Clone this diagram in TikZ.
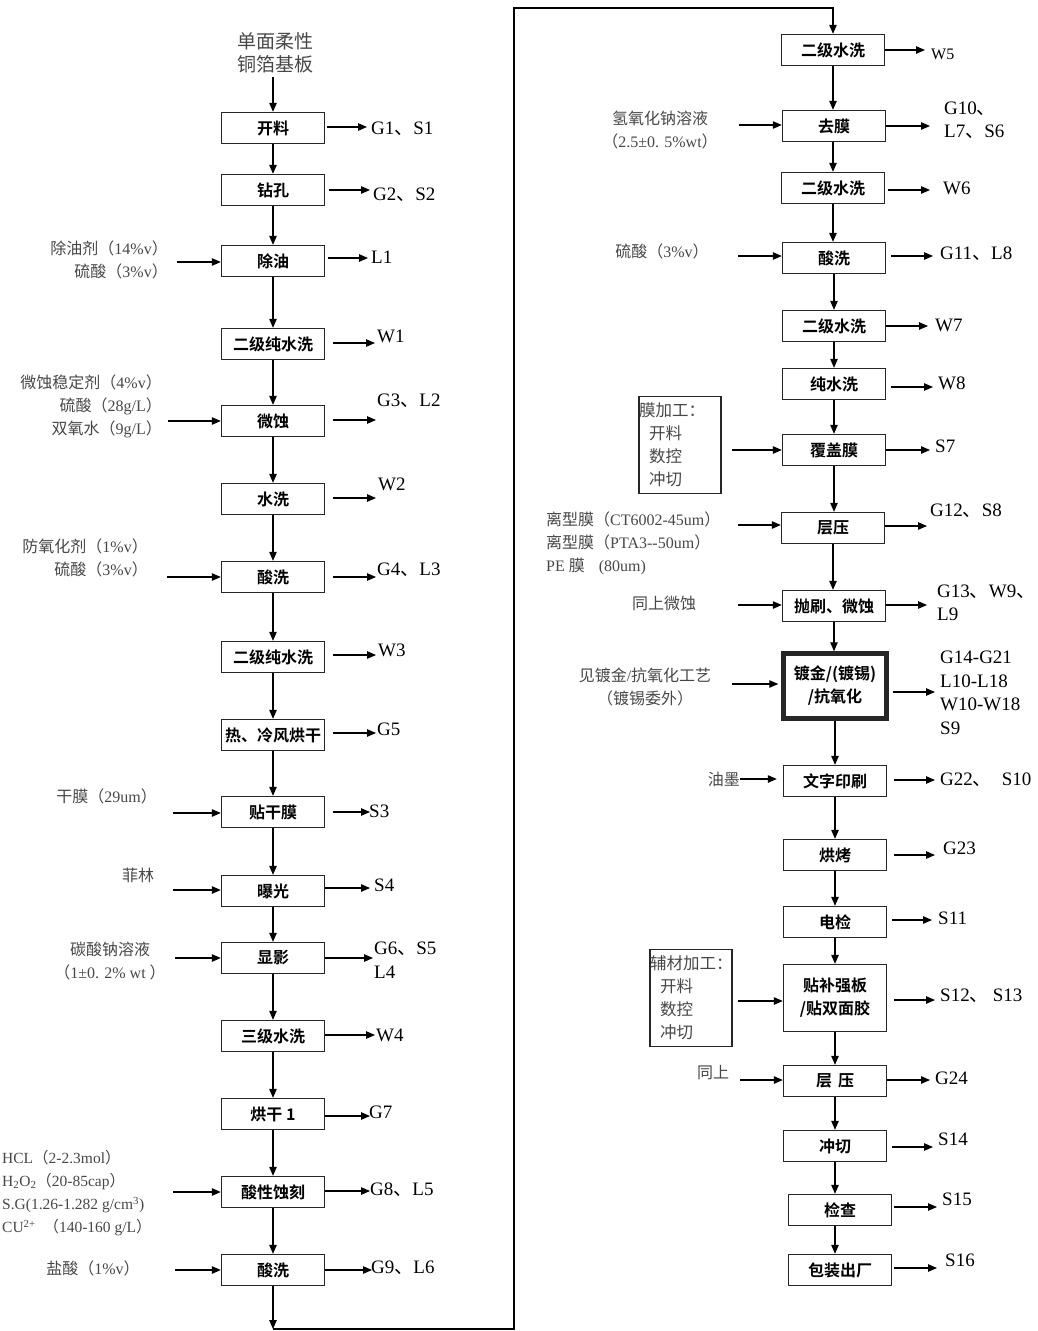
\documentclass[tikz,border=0pt]{standalone}
\usepackage{fontspec}
\setmainfont{Liberation Serif}
\newfontfamily\zh{Noto Sans CJK SC}[BoldFont={Noto Sans CJK SC Bold}]
\usetikzlibrary{arrows.meta}
\newcommand{\z}[1]{{\zh #1}}
\newcommand{\insize}{\fontsize{16}{23}\selectfont}
\newcommand{\outsize}{\fontsize{19}{23.5}\selectfont}

\begin{document}
\begin{tikzpicture}[x=1pt,y=-1pt,
  proc/.style={draw=black!85, line width=1.4pt, minimum width=103pt, minimum height=31pt,
    inner sep=0pt, align=center, font=\zh\bfseries\fontsize{16}{23}\selectfont},
  flow/.style={-{Triangle[length=9pt,width=7.5pt]}, line width=1.1pt},
  feed/.style={font=\insize, text=black!72, inner sep=0pt},
  emit/.style={font=\outsize, anchor=west, align=left, inner sep=0pt},
  prep/.style={draw=black!85, line width=1.2pt, minimum width=82pt, minimum height=97pt, text width=82pt,
    inner sep=0pt, align=left, text=black!72, font=\zh\fontsize{16.5}{23}\selectfont}]
  \useasboundingbox (0,0) rectangle (1038,1331);

  % left column
  \node[feed, align=center, font=\zh\fontsize{19}{23}\selectfont] (ban) at (275,53) {单面柔性\\铜箔基板};
  \node[proc] (kailiao) at (273,128) {开料};
  \node[proc] (zuankong) at (273,190) {钻孔};
  \node[proc] (chuyou) at (273,261) {除油};
  \node[proc] (chunshui1) at (273,344) {二级纯水洗};
  \node[proc] (weishi) at (273,421) {微蚀};
  \node[proc] (shuixi) at (273,499) {水洗};
  \node[proc] (suanxi1) at (273,577) {酸洗};
  \node[proc] (chunshui2) at (273,657) {二级纯水洗};
  \node[proc] (honggan) at (273,735) {热、冷风烘干};
  \node[proc] (tiemo) at (273,812) {贴干膜};
  \node[proc] (baoguang) at (273,891) {曝光};
  \node[proc] (xianying) at (273,958) {显影};
  \node[proc] (sanji) at (273,1036) {三级水洗};
  \node[proc] (honggan1) at (273,1114) {烘干 1};
  \node[proc] (shike) at (273,1192) {酸性蚀刻};
  \node[proc] (suanxi2) at (273,1270) {酸洗};

  \draw[flow, shorten <=4pt] (ban.south -| kailiao) -- (kailiao);
  \draw[flow] (kailiao) -- (zuankong);
  \draw[flow] (zuankong) -- (chuyou);
  \draw[flow] (chuyou) -- (chunshui1);
  \draw[flow] (chunshui1) -- (weishi);
  \draw[flow] (weishi) -- (shuixi);
  \draw[flow] (shuixi) -- (suanxi1);
  \draw[flow] (suanxi1) -- (chunshui2);
  \draw[flow] (chunshui2) -- (honggan);
  \draw[flow] (honggan) -- (tiemo);
  \draw[flow] (tiemo) -- (baoguang);
  \draw[flow] (baoguang) -- (xianying);
  \draw[flow] (xianying) -- (sanji);
  \draw[flow] (sanji) -- (honggan1);
  \draw[flow] (honggan1) -- (shike);
  \draw[flow] (shike) -- (suanxi2);

  % feeds on the left
  \node[feed, align=right, anchor=east] (f3) at (168,260) {\z{除油剂（}14\%v\z{）}\\\z{硫酸（}3\%v\z{）}};
  \node[feed, align=right, anchor=east] (f5) at (162,406) {\z{微蚀稳定剂（}4\%v\z{）}\\\z{硫酸（}28g/L\z{）}\\\z{双氧水（}9g/L\z{）}};
  \node[feed, align=right, anchor=east] (f7) at (148,558) {\z{防氧化剂（}1\%v\z{）}\\\z{硫酸（}3\%v\z{）}};
  \node[feed, anchor=east] (f10) at (157,796) {\z{干膜（}29um\z{）}};
  \node[feed] (f11) at (138,875) {\z{菲林}};
  \node[feed, align=center] (f12) at (110,961) {\z{碳酸钠溶液}\\\z{（}1±0. 2\% wt \z{）}};
  \node[feed, align=left, anchor=west, font=\fontsize{15.5}{23}\selectfont] (f15) at (2,1193) {HCL\z{（}2-2.3mol\z{）}\\H\textsubscript{2}O\textsubscript{2}\z{（}20-85cap\z{）}\\S.G(1.26-1.282 g/cm\textsuperscript{3})\\CU\textsuperscript{2+}\ \ \z{（}140-160 g/L\z{）}};
  \node[feed] (f16) at (93,1268) {\z{盐酸（}1\%v\z{）}};

  \coordinate (i3) at (177,262);
  \coordinate (i5) at (168,421);
  \coordinate (i7) at (167,577);
  \coordinate (i10) at (173,813);
  \coordinate (i11) at (173,890);
  \coordinate (i12) at (175,958);
  \coordinate (i15) at (173,1192);
  \coordinate (i16) at (175,1270);
  \draw[flow] (i3) -- (i3 -| chuyou.west);
  \draw[flow] (i5) -- (i5 -| weishi.west);
  \draw[flow] (i7) -- (i7 -| suanxi1.west);
  \draw[flow] (i10) -- (i10 -| tiemo.west);
  \draw[flow] (i11) -- (i11 -| baoguang.west);
  \draw[flow] (i12) -- (i12 -| xianying.west);
  \draw[flow] (i15) -- (i15 -| shike.west);
  \draw[flow] (i16) -- (i16 -| suanxi2.west);

  % outputs on the left
  \coordinate (o1) at (367,127);
  \coordinate (o2) at (370,190);
  \coordinate (o3) at (368,258);
  \coordinate (o4) at (375,343);
  \coordinate (o5) at (376,420);
  \coordinate (o6) at (376,498);
  \coordinate (o7) at (376,577);
  \coordinate (o8) at (376,655);
  \coordinate (o9) at (376,733);
  \coordinate (o10) at (370,812);
  \coordinate (o11) at (370,888);
  \coordinate (o12) at (373,958);
  \coordinate (o13) at (375,1035);
  \coordinate (o14) at (370,1116);
  \coordinate (o15) at (370,1191);
  \coordinate (o16) at (372,1270);
  \draw[flow] ([xshift=2pt]kailiao.east |- o1) -- (o1);
  \draw[flow] ([xshift=4pt]zuankong.east |- o2) -- (o2);
  \draw[flow] ([xshift=3pt]chuyou.east |- o3) -- (o3);
  \draw[flow] ([xshift=8pt]chunshui1.east |- o4) -- (o4);
  \draw[flow] ([xshift=8pt]weishi.east |- o5) -- (o5);
  \draw[flow] ([xshift=8pt]shuixi.east |- o6) -- (o6);
  \draw[flow] ([xshift=8pt]suanxi1.east |- o7) -- (o7);
  \draw[flow] ([xshift=8pt]chunshui2.east |- o8) -- (o8);
  \draw[flow] ([xshift=8pt]honggan.east |- o9) -- (o9);
  \draw[flow] ([xshift=8pt]tiemo.east |- o10) -- (o10);
  \draw[flow] (baoguang.east |- o11) -- (o11);
  \draw[flow] (xianying.east |- o12) -- (o12);
  \draw[flow] (sanji.east |- o13) -- (o13);
  \draw[flow] (honggan1.east |- o14) -- (o14);
  \draw[flow] (shike.east |- o15) -- (o15);
  \draw[flow] (suanxi2.east |- o16) -- (o16);
  \node[emit] (e1) at (371,129) {G1\z{、}S1};
  \node[emit] (e2) at (373,195) {G2\z{、}S2};
  \node[emit] (e3) at (371,257) {L1};
  \node[emit] (e4) at (377,336) {W1};
  \node[emit] (e5) at (377,401) {G3\z{、}L2};
  \node[emit] (e6) at (378,484) {W2};
  \node[emit] (e7) at (377,570) {G4\z{、}L3};
  \node[emit] (e8) at (378,650) {W3};
  \node[emit] (e9) at (377,729) {G5};
  \node[emit] (e10) at (369,811) {S3};
  \node[emit] (e11) at (374,885) {S4};
  \node[emit] (e12) at (374,960) {G6\z{、}S5\\L4};
  \node[emit] (e13) at (376,1035) {W4};
  \node[emit] (e14) at (369,1112) {G7};
  \node[emit] (e15) at (370,1190) {G8\z{、}L5};
  \node[emit] (e16) at (371,1268) {G9\z{、}L6};

  % link to the right column
  \coordinate (c1) at (273,1329);
  \coordinate (c2) at (514,1329);
  \coordinate (c3) at (514,8);

  % right column
  \node[proc] (shuixi5) at (833,50) {二级水洗};
  \node[proc] (qumo) at (834,126) {去膜};
  \node[proc] (shuixi6) at (833,188) {二级水洗};
  \node[proc] (suanxi3) at (834,258) {酸洗};
  \node[proc] (shuixi7) at (834,326) {二级水洗};
  \node[proc] (chunshui3) at (834,384) {纯水洗};
  \node[proc] (fugai) at (834,450) {覆盖膜};
  \node[proc] (cengya1) at (833,528) {层压};
  \node[proc] (paoshua) at (834,606) {抛刷、微蚀};
  \node[proc, line width=4.5pt, minimum width=103pt, minimum height=65pt] (dujin) at (835,686) {镀金/(镀锡)\\/抗氧化};
  \node[proc] (yinshua) at (835,781) {文字印刷};
  \node[proc] (hongkao) at (835,855) {烘烤};
  \node[proc] (dianjian) at (835,922) {电检};
  \node[proc, minimum height=67pt] (butie) at (835,998) {贴补强板\\/贴双面胶};
  \node[proc] (cengya2) at (835,1081) {层\hspace{6pt}压};
  \node[proc] (chongqie) at (835,1146) {冲切};
  \node[proc] (jiancha) at (840,1210) {检查};
  \node[proc] (baozhuang) at (840,1270) {包装出厂};

  \draw[flow] (suanxi2) -- (c1);
  \draw[flow] (c1) -- (c2) -- (c3) -| (shuixi5.north);
  \draw[flow] (shuixi5) -- (shuixi5 |- qumo.north);
  \draw[flow] (qumo.south -| shuixi5) -- (shuixi6);
  \draw[flow] (shuixi6) -- (shuixi6 |- suanxi3.north);
  \draw[flow] (suanxi3) -- (shuixi7);
  \draw[flow] (shuixi7) -- (chunshui3);
  \draw[flow] (chunshui3) -- (fugai);
  \draw[flow] (fugai) -- (fugai |- cengya1.north);
  \draw[flow] (cengya1) -- (cengya1 |- paoshua.north);
  \draw[flow] (paoshua) -- (paoshua |- dujin.north);
  \draw[flow] (dujin) -- (yinshua);
  \draw[flow] (yinshua) -- (hongkao);
  \draw[flow] (hongkao) -- (dianjian);
  \draw[flow] (dianjian) -- (butie);
  \draw[flow] (butie) -- (cengya2);
  \draw[flow] (cengya2) -- (chongqie);
  \draw[flow] (chongqie.south) -- (chongqie.south |- jiancha.north);
  \draw[flow] (jiancha.south -| chongqie) -- (baozhuang.north -| chongqie);

  % feeds on the right
  \node[feed, align=center] (g2) at (660,130) {\z{氢氧化钠溶液}\\\z{（}2.5±0. 5\%wt\z{）}};
  \node[feed] (g4) at (662,251) {\z{硫酸（}3\%v\z{）}};
  \node[prep] (mojg) at (680,445) {膜加工：\\\hspace*{10pt}开料\\\hspace*{10pt}数控\\\hspace*{10pt}冲切};
  \node[feed, align=left, anchor=west] (g8) at (546,543) {\z{离型膜（}CT6002-45um\z{）}\\\z{离型膜（}PTA3-{}-50um\z{）}\\PE \z{膜}\hspace{14pt}(80um)};
  \node[feed] (g9) at (664,603) {\z{同上微蚀}};
  \node[feed, align=center] (g10) at (645,687) {\z{见镀金}/\z{抗氧化工艺}\\\z{（镀锡委外）}};
  \node[feed, anchor=east] (youmo) at (740,779) {\z{油墨}};
  \node[prep] (fucai) at (691,998) {辅材加工：\\\hspace*{10pt}开料\\\hspace*{10pt}数控\\\hspace*{10pt}冲切};
  \node[feed] (g15) at (713,1073) {\z{同上}};

  \coordinate (j2) at (739,125);
  \coordinate (j4) at (738,256);
  \coordinate (j7) at (732,450);
  \coordinate (j8) at (738,525);
  \coordinate (j9) at (738,605);
  \coordinate (j10) at (732,684);
  \coordinate (j14) at (738,1001);
  \coordinate (j15) at (740,1080);
  \draw[flow] (j2) -- (j2 -| qumo.west);
  \draw[flow] (j4) -- (j4 -| suanxi3.west);
  \draw[flow] (j7) -- (j7 -| fugai.west);
  \draw[flow] (j8) -- (j8 -| cengya1.west);
  \draw[flow] (j9) -- (j9 -| paoshua.west);
  \draw[flow] (j10) -- ([xshift=-3pt]j10 -| dujin.west);
  \draw[flow] (youmo.east) -- ([xshift=-6pt]youmo.east -| yinshua.west);
  \draw[flow] (j14) -- (j14 -| butie.west);
  \draw[flow] (j15) -- (j15 -| cengya2.west);

  % outputs on the right
  \coordinate (p1) at (925,50);
  \coordinate (p2) at (930,126);
  \coordinate (p3) at (930,190);
  \coordinate (p4) at (933,256);
  \coordinate (p5) at (928,326);
  \coordinate (p6) at (933,387);
  \coordinate (p7) at (930,450);
  \coordinate (p8) at (927,526);
  \coordinate (p9) at (927,605);
  \coordinate (p10) at (935,692);
  \coordinate (p11) at (935,780);
  \coordinate (p12) at (935,855);
  \coordinate (p13) at (932,920);
  \coordinate (p14) at (935,1000);
  \coordinate (p15) at (930,1080);
  \coordinate (p16) at (933,1147);
  \coordinate (p17) at (937,1207);
  \coordinate (p18) at (937,1268);
  \draw[flow] (shuixi5.east |- p1) -- (p1);
  \draw[flow] (qumo.east |- p2) -- (p2);
  \draw[flow] ([xshift=3pt]shuixi6.east |- p3) -- (p3);
  \draw[flow] ([xshift=5pt]suanxi3.east |- p4) -- (p4);
  \draw[flow] (shuixi7.east |- p5) -- (p5);
  \draw[flow] ([xshift=5pt]chunshui3.east |- p6) -- (p6);
  \draw[flow] (fugai.east |- p7) -- (p7);
  \draw[flow] (cengya1.east |- p8) -- (p8);
  \draw[flow] (paoshua.east |- p9) -- (p9);
  \draw[flow] ([xshift=4pt]dujin.east |- p10) -- (p10);
  \draw[flow] ([xshift=7pt]yinshua.east |- p11) -- (p11);
  \draw[flow] ([xshift=7pt]hongkao.east |- p12) -- (p12);
  \draw[flow] ([xshift=5pt]dianjian.east |- p13) -- (p13);
  \draw[flow] ([xshift=7pt]butie.east |- p14) -- (p14);
  \draw[flow] (cengya2.east |- p15) -- (p15);
  \draw[flow] ([xshift=5pt]chongqie.east |- p16) -- (p16);
  \draw[flow] ([xshift=2pt]jiancha.east |- p17) -- (p17);
  \draw[flow] ([xshift=2pt]baozhuang.east |- p18) -- (p18);
  \node[emit, font=\fontsize{16}{20}\selectfont] (q1) at (931,54) {W5};
  \node[emit] (q2) at (944,120) {G10\z{、}\\L7\z{、}S6};
  \node[emit] (q3) at (943,188) {W6};
  \node[emit] (q4) at (940,254) {G11\z{、}L8};
  \node[emit] (q5) at (935,325) {W7};
  \node[emit] (q6) at (938,383) {W8};
  \node[emit] (q7) at (935,446) {S7};
  \node[emit] (q8) at (930,511) {G12\z{、}S8};
  \node[emit] (q9) at (937,603) {G13\z{、}W9\z{、}\\L9};
  \node[emit] (q10) at (940,693) {G14-G21\\L10-L18\\W10-W18\\S9};
  \node[emit] (q11) at (940,780) {G22\z{、}\hspace{10pt}S10};
  \node[emit] (q12) at (943,848) {G23};
  \node[emit] (q13) at (938,918) {S11};
  \node[emit] (q14) at (940,996) {S12\z{、}\hspace{4pt}S13};
  \node[emit] (q15) at (935,1078) {G24};
  \node[emit] (q16) at (938,1139) {S14};
  \node[emit] (q17) at (942,1199) {S15};
  \node[emit] (q18) at (945,1260) {S16};
\end{tikzpicture}
\end{document}
